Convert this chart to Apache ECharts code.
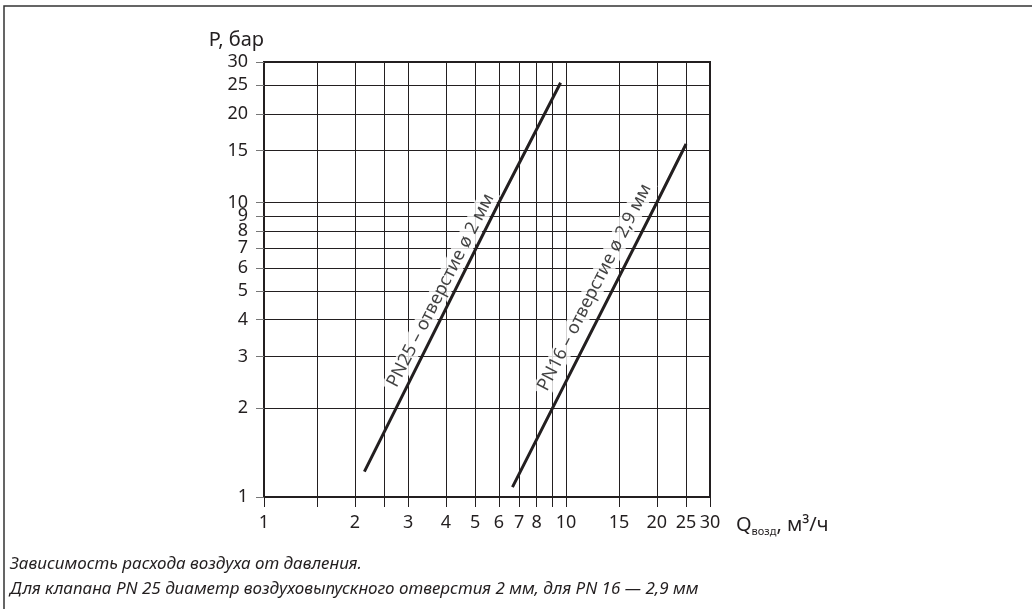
<!DOCTYPE html>
<html>
<head>
<meta charset="utf-8">
<script src="https://cdn.jsdelivr.net/npm/echarts@6/dist/echarts.min.js"></script>
<style>
html,body{margin:0;padding:0;background:#fff;}
#chart{width:1032px;height:609px;}
</style>
</head>
<body>
<div id="chart"></div>
<script>
// Data (log-log chart)
const pn25Q = [2.15, 6.0, 9.6];
const pn25P = [1.22, 10, 25.5];
const pn16Q = [6.65, 20, 25];
const pn16P = [1.08, 10, 15.8];

const xTickValues = [1, 1.5, 2, 2.5, 3, 4, 5, 6, 7, 8, 9, 10, 15, 20, 25, 30];
const xLabelValues = [1, 2, 3, 4, 5, 6, 7, 8, 10, 15, 20, 25, 30];
const yTickValues = [1, 2, 3, 4, 5, 6, 7, 8, 9, 10, 15, 20, 25, 30];
const yLabelValues = [1, 2, 3, 4, 5, 6, 7, 8, 9, 10, 15, 20, 25, 30];

const pn25Label = 'PN25 – отверстие ø 2 мм';
const pn16Label = 'PN16 – отверстие ø 2,9 мм';
const yName = 'P, бар';
const caption1 = 'Зависимость расхода воздуха от давления.';
const caption2 = 'Для клапана PN 25 диаметр воздуховыпускного отверстия 2 мм, для PN 16 — 2,9 мм';

const ink = '#231f20';
const font = 'Noto Sans';

const chart = echarts.init(document.getElementById('chart'), null, {renderer: 'canvas'});

const option = {
  animation: false,
  backgroundColor: '#fff',
  grid: {
    left: 264, right: 322, top: 62, bottom: 112,
    show: true, borderColor: ink, borderWidth: 2, backgroundColor: 'transparent'
  },
  xAxis: {
    type: 'log', logBase: 10, min: 1, max: 30,
    name: '{q|Q}{s|возд}{q|, м³/ч}',
    nameLocation: 'end', nameGap: 26,
    nameTextStyle: {
      padding: [56, 0, 0, 0],
      rich: {
        q: {fontFamily: font, fontSize: 20, color: ink, lineHeight: 24},
        s: {fontFamily: font, fontSize: 11, color: ink, lineHeight: 24, verticalAlign: 'bottom', padding: [9, 0, 0, 0]}
      }
    },
    axisLine: {show: true, onZero: false, lineStyle: {color: ink, width: 2}},
    axisTick: {show: true, length: 10, customValues: xTickValues, lineStyle: {color: ink, width: 1}},
    axisLabel: {customValues: xLabelValues, fontFamily: font, fontSize: 18, color: ink, margin: 17},
    splitLine: {show: true, lineStyle: {color: ink, width: 1}},
    minorTick: {show: false}, minorSplitLine: {show: false}
  },
  yAxis: {
    type: 'log', logBase: 10, min: 1, max: 30,
    name: yName, nameLocation: 'end', nameGap: 12,
    nameTextStyle: {fontFamily: font, fontSize: 20, color: ink, align: 'right', padding: [0, 0, 0, 0]},
    axisLine: {show: true, onZero: false, lineStyle: {color: ink, width: 2}},
    axisTick: {show: true, length: 8, customValues: yTickValues, lineStyle: {color: '#777', width: 1}},
    axisLabel: {customValues: yLabelValues, fontFamily: font, fontSize: 18, color: ink, margin: 16},
    splitLine: {show: true, lineStyle: {color: ink, width: 1}},
    minorTick: {show: false}, minorSplitLine: {show: false}
  },
  series: [
    {
      type: 'line', name: 'PN25', symbol: 'none', silent: true,
      data: pn25Q.map((q, i) => [q, pn25P[i]]),
      lineStyle: {color: ink, width: 3}, z: 3
    },
    {
      type: 'line', name: 'PN16', symbol: 'none', silent: true,
      data: pn16Q.map((q, i) => [q, pn16P[i]]),
      lineStyle: {color: ink, width: 3}, z: 3
    },
    {
      type: 'scatter', symbol: 'circle', symbolSize: 1, silent: true, z: 10,
      itemStyle: {color: 'rgba(0,0,0,0)'},
      data: [
        {value: [3.85, 5.03], label: {formatter: pn25Label}},
        {value: [12.45, 5.15], label: {formatter: pn16Label}}
      ],
      label: {
        show: true, position: 'inside', rotate: 63,
        fontFamily: font, fontSize: 18, color: '#111',
        backgroundColor: '#ffffff', padding: [1, 4],
        textBorderColor: 'transparent', textBorderWidth: 0
      },
      emphasis: {disabled: true}
    }
  ],
  graphic: [
    {type: 'polyline', shape: {points: [[4, 609], [4, 6], [1032, 6]]}, style: {stroke: '#333', lineWidth: 1.5, fill: null}},
    {type: 'text', left: 10, top: 556, style: {text: caption1, font: 'italic 17px "' + font + '"', fill: ink}},
    {type: 'text', left: 10, top: 581, style: {text: caption2, font: 'italic 17px "' + font + '"', fill: ink}}
  ]
};

chart.setOption(option);
</script>
</body>
</html>
